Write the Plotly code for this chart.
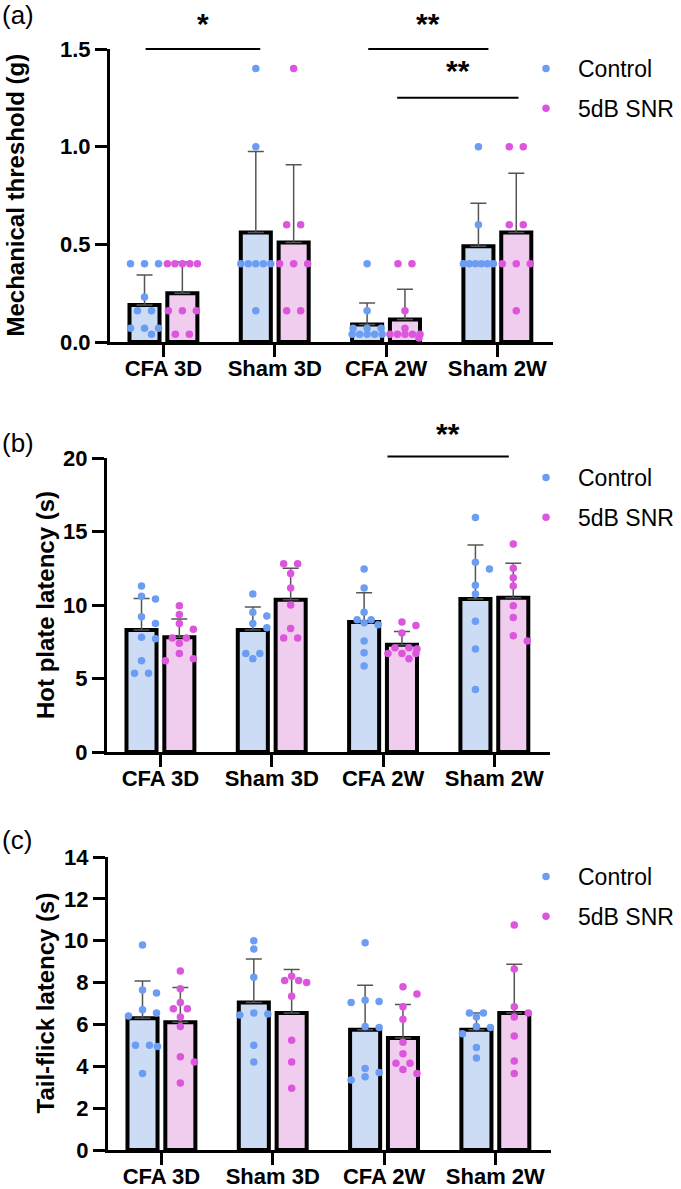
import numpy as np
import plotly.graph_objects as go

W, H = 681, 1189

categories = ["CFA 3D", "Sham 3D", "CFA 2W", "Sham 2W"]
series_names = ["Control", "5dB SNR"]

# ---- Panel (a): Mechanical threshold (g)
mech_ctrl_pts = [
    [0.4, 0.4, 0.4, 0.23, 0.16, 0.16, 0.07, 0.07, 0.07, 0.04],
    [1.4, 1.0, 0.4, 0.4, 0.4, 0.4, 0.4, 0.16],
    [0.4, 0.16, 0.07, 0.07, 0.07, 0.04, 0.04, 0.04, 0.04, 0.04],
    [1.0, 0.6, 0.4, 0.4, 0.4, 0.4, 0.4, 0.4],
]
mech_snr_pts = [
    [0.4, 0.4, 0.4, 0.4, 0.4, 0.16, 0.16, 0.16, 0.04, 0.04],
    [1.4, 0.6, 0.6, 0.4, 0.4, 0.4, 0.16, 0.16],
    [0.4, 0.4, 0.16, 0.07, 0.04, 0.04, 0.04, 0.04, 0.04, 0.02],
    [1.0, 1.0, 0.6, 0.6, 0.4, 0.4, 0.4, 0.16],
]
mech_ctrl_mean = [0.19, 0.56, 0.09, 0.49]
mech_ctrl_sd = [0.153, 0.415, 0.11, 0.22]
mech_snr_mean = [0.25, 0.51, 0.115, 0.56]
mech_snr_sd = [0.16, 0.397, 0.155, 0.304]

# ---- Panel (b): Hot plate latency (s)
hot_ctrl_pts = [
    [11.3, 10.6, 10.4, 9.2, 8.75, 7.8, 7.7, 6.2, 5.35, 5.35],
    [10.75, 9.5, 9.25, 8.75, 8.45, 6.7, 6.7, 6.35],
    [12.45, 11.15, 9.5, 9.0, 9.0, 8.8, 8.65, 7.55, 6.75, 5.85],
    [15.95, 12.9, 12.45, 11.35, 10.75, 8.9, 7.0, 4.25],
]
hot_snr_pts = [
    [9.95, 9.35, 8.75, 8.35, 7.75, 7.75, 7.4, 6.7, 6.35, 6.2],
    [12.8, 12.8, 12.15, 11.15, 10.0, 8.4, 7.75, 7.75],
    [8.85, 8.6, 8.1, 7.1, 7.1, 7.0, 6.7, 6.7, 6.7, 6.35],
    [14.15, 12.5, 11.85, 11.3, 9.95, 9.15, 7.9, 7.55],
]
hot_ctrl_mean = [8.3, 8.3, 8.85, 10.4]
hot_ctrl_sd = [2.15, 1.56, 1.99, 3.69]
hot_snr_mean = [7.8, 10.35, 7.3, 10.5]
hot_snr_sd = [1.25, 2.15, 0.9, 2.34]

# ---- Panel (c): Tail-flick latency (s)
tail_ctrl_pts = [
    [9.8, 7.65, 7.5, 6.7, 6.55, 6.4, 5.0, 5.0, 4.95, 3.65],
    [10.0, 9.6, 8.25, 6.55, 6.5, 6.45, 5.0, 4.2],
    [9.9, 7.15, 7.1, 7.05, 5.9, 5.85, 3.9, 3.7, 3.5, 3.35],
    [6.55, 6.55, 6.35, 5.9, 5.85, 5.55, 4.9, 4.4],
]
tail_snr_pts = [
    [8.55, 7.7, 7.05, 6.75, 6.75, 6.35, 5.9, 4.45, 4.2, 3.2],
    [8.3, 8.1, 8.1, 8.0, 7.35, 5.25, 4.2, 2.95],
    [7.8, 7.45, 6.85, 6.25, 5.15, 4.6, 4.15, 4.15, 3.85, 3.65],
    [10.75, 8.65, 6.85, 6.55, 6.35, 5.45, 4.25, 3.65],
]
tail_ctrl_mean = [6.3, 7.05, 5.75, 5.75]
tail_ctrl_sd = [1.77, 2.08, 2.12, 0.8]
tail_snr_mean = [6.1, 6.55, 5.35, 6.55]
tail_snr_sd = [1.66, 2.07, 1.6, 2.33]

# ---- styling
FONT = "Liberation Sans, Arial, sans-serif"
BAR_FILL = ["#cddcf5", "#f0cdee"]
DOT = ["#6b9ef2", "#dd55dd"]
BAR_OFF = 0.17
BAR_W = 0.27
PPU_X = 111.3


def px_x(p):
    return p / W


def px_y(p):
    return 1 - p / H


def swarm(vals, ppu_y, d=7.5, step=14.0, maxw=15.0):
    n = len(vals)
    off = [0.0] * n
    placed = []
    order = sorted(range(n), key=lambda i: -vals[i])
    groups = []
    for i in order:
        if groups and abs(vals[groups[-1][0]] - vals[i]) < 1e-9:
            groups[-1].append(i)
        else:
            groups.append([i])
    for g in groups:
        y = vals[g[0]] * ppu_y
        if len(g) > 1:
            m = len(g)
            sp = min(step, 2 * maxw / (m - 1))
            for k, i in enumerate(g):
                off[i] = (k - (m - 1) / 2) * sp
                placed.append((y, off[i]))
        else:
            cands = [0, step, -step, step / 2, -step / 2, maxw, -maxw]
            best = None
            best_c, bestd = 0, -1
            for c in cands:
                md = min([np.hypot(c - px, y - py) for py, px in placed] + [1e9])
                if md >= d:
                    best = c
                    break
                if md > bestd:
                    bestd, best_c = md, c
            if best is None:
                best = best_c
            off[g[0]] = best
            placed.append((y, best))
    return [o / PPU_X for o in off]


panels = [
    dict(pts=(mech_ctrl_pts, mech_snr_pts), mean=(mech_ctrl_mean, mech_snr_mean),
         sd=(mech_ctrl_sd, mech_snr_sd), yr=[0, 1.5], dtick=0.5, fmt=".1f",
         title="Mechanical threshold (g)", dy=(49, 342), dx=(110, 553),
         label="(a)", label_y=15, title_x=15, leg_y=47),
    dict(pts=(hot_ctrl_pts, hot_snr_pts), mean=(hot_ctrl_mean, hot_snr_mean),
         sd=(hot_ctrl_sd, hot_snr_sd), yr=[0, 20], dtick=5, fmt="d",
         title="Hot plate latency (s)", dy=(458, 752), dx=(107, 550),
         label="(b)", label_y=443, title_x=45, leg_y=456),
    dict(pts=(tail_ctrl_pts, tail_snr_pts), mean=(tail_ctrl_mean, tail_snr_mean),
         sd=(tail_ctrl_sd, tail_snr_sd), yr=[0, 14], dtick=2, fmt="d",
         title="Tail-flick latency (s)", dy=(857, 1150), dx=(108, 551),
         label="(c)", label_y=840, title_x=45, leg_y=855),
]

# significance brackets: (panel, x0, x1, y_line, y_text, text)
sig_marks = [
    (0, -0.16, 0.87, 1.5, 1.63, "*"),
    (0, 1.84, 2.92, 1.5, 1.63, "**"),
    (0, 2.10, 3.19, 1.25, 1.39, "**"),
    (1, 2.04, 3.13, 20.1, 21.7, "**"),
]


def val_to_paper(P, v):
    ppu_y = (P["dy"][1] - P["dy"][0]) / (P["yr"][1] - P["yr"][0])
    return px_y(P["dy"][1] - (v - P["yr"][0]) * ppu_y)


fig = go.Figure()
layout_upd = {}
annotations = []
shapes = []
xpos = np.arange(len(categories))

for pi, P in enumerate(panels):
    sfx = "" if pi == 0 else str(pi + 1)
    xa, ya = "x" + sfx, "y" + sfx
    legname = "legend" + sfx
    ppu_y = (P["dy"][1] - P["dy"][0]) / (P["yr"][1] - P["yr"][0])
    for si in range(2):
        sign = -1 if si == 0 else 1
        fig.add_trace(go.Bar(
            x=xpos, y=P["mean"][si], xaxis=xa, yaxis=ya,
            offset=sign * BAR_OFF - BAR_W / 2, width=BAR_W,
            marker=dict(color=BAR_FILL[si], line=dict(color="black", width=4)),
            error_y=dict(type="data", array=P["sd"][si], arrayminus=[0] * 4,
                         symmetric=False, color="#555555", thickness=1.5, width=8),
            showlegend=False, hoverinfo="skip",
        ))
    for si in range(2):
        sign = -1 if si == 0 else 1
        xs, ys = [], []
        for ci, vals in enumerate(P["pts"][si]):
            offs = swarm(vals, ppu_y)
            xs += [ci + sign * BAR_OFF + o for o in offs]
            ys += list(vals)
        fig.add_trace(go.Scatter(
            x=xs, y=ys, xaxis=xa, yaxis=ya, mode="markers",
            marker=dict(color=DOT[si], size=7.5, line=dict(width=0)),
            name=series_names[si], legend=legname,
            legendgroup=f"{pi}_{si}", cliponaxis=False,
        ))
    layout_upd["xaxis" + sfx] = dict(
        domain=[px_x(P["dx"][0]), px_x(P["dx"][1])], anchor=ya,
        range=[-0.48, 3.5], tickvals=list(xpos), ticktext=categories,
        showline=True, linecolor="black", linewidth=3,
        ticks="outside", ticklen=12, tickwidth=3, tickcolor="black",
        ticklabelstandoff=-7, automargin=False,
        showgrid=False, zeroline=False, fixedrange=True,
        tickfont=dict(family=FONT, size=22, color="black", weight="bold"),
    )
    layout_upd["yaxis" + sfx] = dict(
        domain=[px_y(P["dy"][1]), px_y(P["dy"][0])], anchor=xa,
        range=P["yr"], dtick=P["dtick"], tick0=0, tickformat=P["fmt"],
        showline=True, linecolor="black", linewidth=3,
        ticks="outside", ticklen=12, tickwidth=3, tickcolor="black",
        automargin=False,
        showgrid=False, zeroline=False, fixedrange=True,
        tickfont=dict(family=FONT, size=22, color="black", weight="bold"),
    )
    layout_upd[legname] = dict(
        x=px_x(514), xanchor="left", y=px_y(P["leg_y"]), yanchor="top",
        bgcolor="rgba(0,0,0,0)", font=dict(family=FONT, size=23, color="black"),
        itemwidth=54, tracegroupgap=7, traceorder="grouped",
    )
    annotations.append(dict(
        text=P["label"], xref="paper", yref="paper", x=0, xanchor="left",
        y=px_y(P["label_y"]), yanchor="middle", showarrow=False,
        font=dict(family=FONT, size=26, color="black"),
    ))
    annotations.append(dict(
        text="<b>" + P["title"] + "</b>", xref="paper", yref="paper",
        x=px_x(P["title_x"]), xanchor="center",
        y=px_y((P["dy"][0] + P["dy"][1]) / 2), yanchor="middle",
        textangle=-90, showarrow=False,
        font=dict(family=FONT, size=24, color="black"),
    ))

for (pi, x0, x1, yl, yt, txt) in sig_marks:
    sfx = "" if pi == 0 else str(pi + 1)
    P = panels[pi]
    yl_p = val_to_paper(P, yl)
    shapes.append(dict(type="line", xref="x" + sfx, yref="paper",
                       x0=x0, x1=x1, y0=yl_p, y1=yl_p,
                       line=dict(color="black", width=2)))
    annotations.append(dict(text="<b>" + txt + "</b>", xref="x" + sfx, yref="paper",
                            x=(x0 + x1) / 2, y=val_to_paper(P, yt), showarrow=False,
                            xanchor="center", yanchor="middle",
                            font=dict(family=FONT, size=30, color="black")))

fig.update_layout(
    width=W, height=H, autosize=False,
    margin=dict(l=0, r=0, t=0, b=0),
    paper_bgcolor="white", plot_bgcolor="white",
    barmode="overlay", annotations=annotations, shapes=shapes,
    **layout_upd,
)

fig.write_html("out.html")
